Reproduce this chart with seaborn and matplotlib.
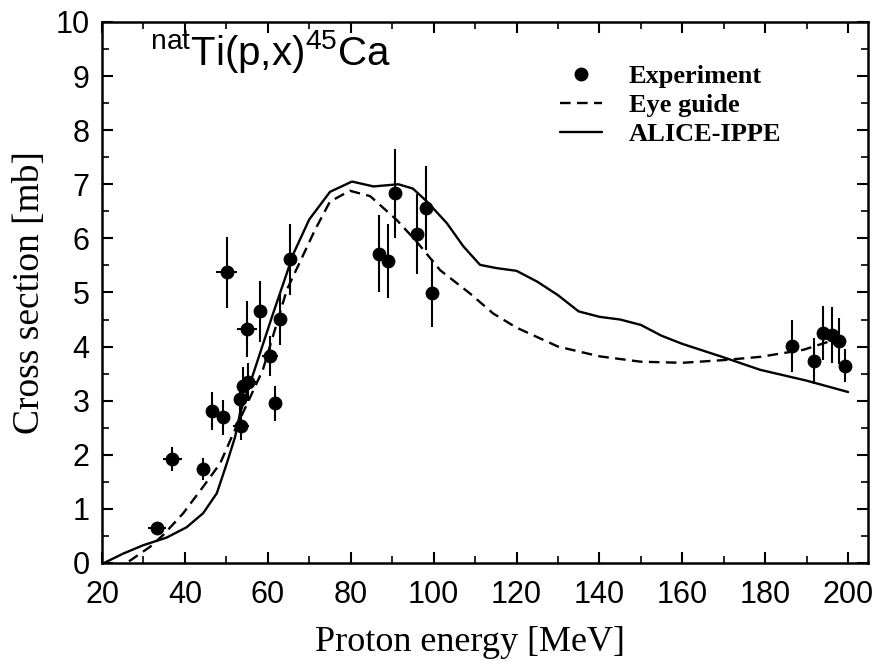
import numpy as np
import pandas as pd
import seaborn as sns
import matplotlib.pyplot as plt
from matplotlib.lines import Line2D
from matplotlib.ticker import MultipleLocator

# %% data
# experimental points: energy [MeV], cross section [mb], errors
exp_energy = [33.3, 37.0, 44.3, 46.5, 49.3, 50.1, 53.5, 53.3, 54.0, 55.3, 54.9, 58.1, 60.5, 61.7,
              63.0, 65.4, 86.9, 88.9, 90.7, 96.1, 98.1, 99.7, 186.4, 191.8, 193.9, 196.1, 197.9, 199.3]
exp_xs = [0.65, 1.92, 1.74, 2.81, 2.69, 5.37, 2.54, 3.04, 3.27, 3.35, 4.33, 4.65, 3.83, 2.95,
          4.51, 5.61, 5.72, 5.58, 6.83, 6.08, 6.56, 4.99, 4.01, 3.73, 4.25, 4.22, 4.10, 3.65]
exp_dxs = [0.05, 0.22, 0.2, 0.35, 0.32, 0.66, 0.26, 0.3, 0.35, 0.35, 0.52, 0.56, 0.37, 0.32,
           0.48, 0.65, 0.71, 0.68, 0.82, 0.74, 0.77, 0.62, 0.48, 0.43, 0.5, 0.52, 0.43, 0.3]
exp_denergy = [2.2, 2.4, 1.5, 1.5, 1.5, 2.5, 2.0, 1.5, 1.5, 2.0, 2.4, 1.5, 2.0, 1.5,
               1.5, 1.5, 0.5, 0.5, 0.5, 0.5, 0.5, 0.5, 1.3, 1.0, 1.0, 1.0, 1.0, 1.0]

# eye guide (dashed)
eye_energy = [26.5, 31.6, 34.8, 39.6, 44.4, 48.5, 51.3, 58.8, 64.6, 71.4, 75.0, 79.8, 84.7,
              91.1, 95.9, 101.6, 108.8, 114.4, 120, 130, 140, 150, 160, 170, 178.8, 189.2, 195.3]
eye_xs = [0.03, 0.3, 0.52, 0.92, 1.41, 1.84, 2.33, 3.57, 5.05, 6.16, 6.68, 6.88, 6.78,
          6.34, 5.94, 5.41, 4.98, 4.61, 4.35, 4.0, 3.82, 3.72, 3.70, 3.75, 3.81, 3.94, 4.09]

# ALICE-IPPE calculation (solid)
alice_energy = [20.5, 25, 30, 35.6, 40.4, 44.4, 47.7, 50.1, 52.1, 53.3, 56.5, 61, 66.2, 70, 75,
                80.3, 85.5, 91.5, 95, 98.4, 103.2, 107.2, 111.2, 115.2, 120, 125, 130, 135, 140,
                145, 150, 155, 160, 170, 178.8, 190, 200]
alice_xs = [0.0, 0.17, 0.33, 0.47, 0.66, 0.92, 1.29, 1.84, 2.33, 2.77, 3.5, 4.55, 5.72, 6.35, 6.86,
            7.05, 6.96, 7.0, 6.92, 6.68, 6.28, 5.85, 5.51, 5.45, 5.4, 5.2, 4.95, 4.65, 4.55,
            4.5, 4.4, 4.2, 4.05, 3.8, 3.57, 3.37, 3.16]

exp_df = pd.DataFrame({'energy': exp_energy, 'xs': exp_xs})
eye_df = pd.DataFrame({'energy': eye_energy, 'xs': eye_xs})
alice_df = pd.DataFrame({'energy': alice_energy, 'xs': alice_xs})

# %% plot
sns.set_style('ticks')
plt.rcParams['font.family'] = ['Liberation Sans', 'DejaVu Sans']
plt.rcParams['mathtext.fontset'] = 'custom'
plt.rcParams['mathtext.rm'] = 'Liberation Sans'
for key in ['axes.edgecolor', 'xtick.color', 'ytick.color', 'text.color', 'axes.labelcolor']:
    plt.rcParams[key] = 'black'

fig, ax = plt.subplots(figsize=(8.78, 6.65), dpi=100)
fig.subplots_adjust(left=0.1162, right=0.9886, bottom=0.1534, top=0.967)

sns.lineplot(data=alice_df, x='energy', y='xs', color='black', lw=1.7, sort=False, ax=ax)
sns.lineplot(data=eye_df, x='energy', y='xs', color='black', lw=1.7, sort=False,
             linestyle=(0, (4.5, 2.7)), ax=ax)
ax.errorbar(exp_energy, exp_xs, yerr=exp_dxs, xerr=exp_denergy, fmt='none',
            ecolor='black', elinewidth=1.5, capsize=0, zorder=3)
sns.scatterplot(data=exp_df, x='energy', y='xs', color='black', edgecolor='black',
                s=85, zorder=4, ax=ax)

ax.set_xlim(20, 204.8)
ax.set_ylim(0, 10)
ax.set_xticks(np.arange(20, 201, 20))
ax.set_yticks(np.arange(0, 11, 1))
ax.xaxis.set_minor_locator(MultipleLocator(10))
ax.yaxis.set_minor_locator(MultipleLocator(0.5))
ax.tick_params(which='both', direction='in', top=True, right=True, labelsize=22)
ax.tick_params(axis='x', pad=12)
ax.tick_params(axis='y', pad=9)
ax.tick_params(which='major', length=8, width=1.5)
ax.tick_params(which='minor', length=5, width=1.2)
for sp in ax.spines.values():
    sp.set_linewidth(1.8)

ax.set_xlabel('Proton energy [MeV]', fontfamily='Liberation Serif', fontsize=26)
ax.xaxis.set_label_coords(0.48, -0.117)
ax.set_ylabel('Cross section [mb]', fontfamily='Liberation Serif', fontsize=27, labelpad=6)

ax.text(0.063, 0.92, r'$^{\rm nat}$Ti(p,x)$^{\rm 45}$Ca', transform=ax.transAxes,
        fontsize=29, va='baseline', ha='left')

handles = [Line2D([], [], marker='o', ls='none', color='black', ms=9),
           Line2D([], [], color='black', lw=1.7, ls=(0, (4.5, 2.7))),
           Line2D([], [], color='black', lw=1.7)]
labels = ['Experiment', 'Eye guide', 'ALICE-IPPE']
ax.legend(handles, labels, loc='upper left', bbox_to_anchor=(560 / 878, 1 - 65 / 665),
          bbox_transform=fig.transFigure, frameon=False, borderpad=0, borderaxespad=0,
          handlelength=1.6, handletextpad=1.0, labelspacing=0.2,
          prop={'family': 'Liberation Serif', 'weight': 'bold', 'size': 19})

fig.savefig('out.png', dpi=100)
